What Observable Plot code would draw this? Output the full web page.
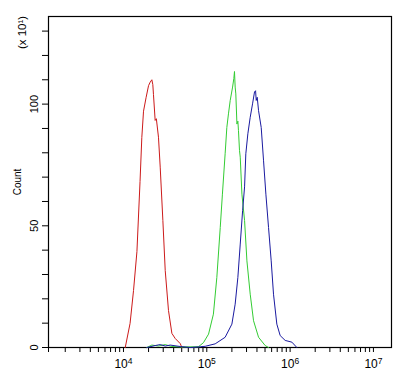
<!DOCTYPE html>
<html><head><meta charset="utf-8">
<script src="https://cdn.jsdelivr.net/npm/d3@7"></script>
<script src="https://cdn.jsdelivr.net/npm/@observablehq/plot@0.6"></script>
<style>body{margin:0;background:#fff} svg{display:block}</style>
</head><body><div id="chart"></div>
<script>
// Fluorescence intensity (x) and count in units of 10^1 (y)
const redX = [10500,12000,13200,14500,15800,16600,17400,18700,20000,20900,21900,22500,22900,24000,24800,26300,27600,29700,31700,34700,38100,41800,48000,50200];
const redY = [0,9.9,23.4,39.4,68.2,86.3,97.1,102.8,107.6,109.0,110.0,108,104,93.3,94,86.4,74.1,52.2,31.6,15.2,5.8,3.7,1.6,0];

const greenX = [19100,21900,26300,31600,38000,50100,79400,91200,105000,120000,132000,145000,154000,166000,174000,182000,191000,204000,211000,215000,219000,223000,230000,236000,240000,247000,252000,264000,284000,303000,332000,364000,418000,502000,551000];
const greenY = [0,1.0,0.6,1.2,0.4,0.2,0.3,2.0,5.5,13.7,28.8,49.3,63.0,79.6,90.4,96.0,101.5,107.0,110.5,113.4,107,104.2,91.8,93,89.1,80.9,78.2,63.0,52.2,35.6,21.9,11.0,4.2,0.8,0];

const blueX = [19100,24000,27600,31700,36400,48000,63200,83400,95700,126000,166000,200000,219000,236000,252000,269000,284000,294000,311000,332000,354000,374000,385000,392000,403000,418000,450000,480000,512000,551000,593000,632000,693000,760000,873000,1050000,1205000];
const blueY = [0,0.8,1.2,0.6,1.0,0.4,0,0.3,0.5,1.5,4.2,9.6,17.8,28.8,42.5,56.2,66,79.6,87.8,94.6,100.1,105.0,105.5,101.5,102.8,97.3,90.4,76.7,63.0,49.3,35.6,21.9,9.6,4.9,2.9,2.2,0];

const xDecadeTicks = [1e4, 1e5, 1e6, 1e7];
const xMinorTicks = [2e3,3e3,4e3,5e3,6e3,7e3,8e3,9e3,2e4,3e4,4e4,5e4,6e4,7e4,8e4,9e4,2e5,3e5,4e5,5e5,6e5,7e5,8e5,9e5,2e6,3e6,4e6,5e6,6e6,7e6,8e6,9e6];
const yLabelTicks = [0, 50, 100];
const yMinorTicks = [10,20,30,40,60,70,80,90,110,120,130];
const yLabel = "Count";
const yUnit = "(x 10\u00B9)";

const toRows = (xs, ys) => xs.map((x, i) => ({x, y: ys[i]}));
const red = toRows(redX, redY), green = toRows(greenX, greenY), blue = toRows(blueX, blueY);

const font = "'Liberation Sans', Arial, sans-serif";
const plot = Plot.plot({
  width: 413, height: 375,
  marginLeft: 48, marginRight: 22, marginTop: 16, marginBottom: 28,
  style: {fontFamily: font, fontSize: "10px", color: "#000", background: "#fff"},
  x: {type: "log", domain: [1259, 16480000]},
  y: {domain: [0, 136]},
  marks: [
    Plot.frame({stroke: "#000", strokeWidth: 1.2}),
    Plot.axisX({ticks: xMinorTicks, tickSize: 5, tickFormat: () => "", label: null}),
    Plot.axisX({ticks: [1259, ...xDecadeTicks], tickSize: 5, tickFormat: d => d < 2000 ? "" : "10^" + Math.round(Math.log10(d)), tickPadding: 7, label: null, className: "xlab"}),
    Plot.axisY({ticks: yMinorTicks, tickSize: 6, tickFormat: () => "", label: null}),
    Plot.axisY({ticks: yLabelTicks, tickSize: 6, tickRotate: -90, tickPadding: 5, label: yLabel, labelAnchor: "center", labelArrow: "none", labelOffset: 35, className: "ylab"}),
    Plot.text([yUnit], {frameAnchor: "top-left", dx: -31, dy: 16, rotate: -90, textAnchor: "middle", className: "yunit"}),
    Plot.line(red, {x: "x", y: "y", stroke: "#cc1a1a", strokeWidth: 1}),
    Plot.line(green, {x: "x", y: "y", stroke: "#33cc33", strokeWidth: 1}),
    Plot.line(blue, {x: "x", y: "y", stroke: "#1a1aa0", strokeWidth: 1})
  ]
});
document.getElementById("chart").appendChild(plot);
// render superscript exponents on x tick labels
d3.select(plot).selectAll(".xlab text").each(function() {
  const t = d3.select(this);
  const s = t.text();
  if (!s.startsWith("10^")) return;
  const exp = s.slice(3);
  t.style("font-size", "12px").text("10");
  t.append("tspan").attr("dy", "-0.5em").style("font-size", "8.5px").text(exp);
});
d3.select(plot).selectAll(".ylab text").style("font-size", "11px");
d3.select(plot).selectAll(".yunit text").style("font-size", "11.5px");
</script></body></html>
